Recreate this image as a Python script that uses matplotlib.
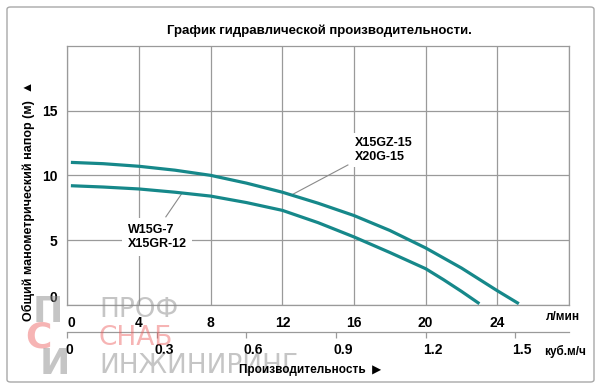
import matplotlib
matplotlib.use("Agg")
import matplotlib.pyplot as plt
from matplotlib.patches import FancyBboxPatch
from matplotlib.transforms import ScaledTranslation, blended_transform_factory

plt.rcParams['font.family'] = ['Liberation Sans', 'DejaVu Sans']
plt.rcParams['font.weight'] = 'bold'

# ---- data (flow in l/min, head in m) ----
flow_upper = [0.2, 2, 4, 6, 8, 10, 12, 14, 16, 18, 20, 22, 24, 25.2]
head_upper = [11.0, 10.9, 10.7, 10.4, 10.0, 9.4, 8.7, 7.85, 6.9, 5.75, 4.4, 2.85, 1.1, 0.1]
flow_lower = [0.2, 2, 4, 6, 8, 10, 12, 14, 16, 18, 20, 21, 22, 23.0]
head_lower = [9.2, 9.1, 8.95, 8.7, 8.4, 7.9, 7.3, 6.35, 5.25, 4.05, 2.8, 1.95, 1.05, 0.1]

label_upper = "X15GZ-15\nX20G-15"
label_lower = "W15G-7\nX15GR-12"

x_ticks_lmin = [0, 4, 8, 12, 16, 20, 24]
y_ticks = [0, 5, 10, 15]
x_ticks_m3h = [0, 0.3, 0.6, 0.9, 1.2, 1.5]
x_tick_m3h_labels = ["0", "0.3", "0.6", "0.9", "1.2", "1.5"]

title = "График гидравлической производительности."
ylabel = "Общий манометрический напор (м)  ▲"
xlabel = "Производительность  ▶"
unit_lmin = "л/мин"
unit_m3h = "куб.м/ч"
watermark_words = ["ПРОФ", "СНАБ", "ИНЖИНИРИНГ"]

teal = "#16888a"
grid_c = "#9a9a9a"

fig = plt.figure(figsize=(6.0, 3.92), dpi=100)
W, H = 600, 392
ax = fig.add_axes([67.3 / W, 1 - 305 / H, (569 - 67.3) / W, (305 - 45.7) / H])

ax.set_xlim(0, 28)
ax.set_ylim(0, 20)
ax.set_xticks(range(0, 29, 4))
ax.set_xticklabels([str(v) if v in x_ticks_lmin else "" for v in range(0, 29, 4)])
ax.set_yticks(y_ticks)
ax.set_yticklabels([str(v) for v in y_ticks])
ax.tick_params(length=0, labelsize=10)
ax.tick_params(axis='x', pad=8)
ax.tick_params(axis='y', pad=7)
ax.grid(True, color=grid_c, linewidth=0.9)
ax.set_axisbelow(True)
for s in ax.spines.values():
    s.set_color(grid_c)
    s.set_linewidth(0.9)

# y "0" label is raised, x "0" label shifted right
ylabs = ax.get_yticklabels()
ylabs[0].set_va('bottom')
xlabs = ax.get_xticklabels()
xlabs[0].set_transform(xlabs[0].get_transform() + ScaledTranslation(4 / 100, 0, fig.dpi_scale_trans))

ax.plot(flow_upper, head_upper, color=teal, linewidth=2.3, solid_capstyle='butt', zorder=4)
ax.plot(flow_lower, head_lower, color=teal, linewidth=2.3, solid_capstyle='butt', zorder=4)

# labels with leader lines
ax.plot([15.66, 12.6], [10.8, 8.55], color="#8a8a8a", linewidth=0.8, zorder=3)
ax.plot([5.5, 6.4], [6.8, 8.62], color="#8a8a8a", linewidth=0.8, zorder=3)
ax.text(16.05, 11.95, label_upper, ha='left', va='center', fontsize=9, linespacing=1.3,
        zorder=3, bbox=dict(facecolor='white', edgecolor='none', pad=2.5))
ax.text(3.38, 5.25, label_lower, ha='left', va='center', fontsize=9, linespacing=1.3,
        zorder=3, bbox=dict(facecolor='white', edgecolor='none', pad=4))

# secondary flow axis in m3/h
sec = ax.secondary_xaxis(-0.104, functions=(lambda q: q * 0.06, lambda v: v / 0.06))
sec.set_xticks(x_ticks_m3h)
sec.set_xticklabels(x_tick_m3h_labels)
sec.tick_params(axis='x', length=4, width=0.9, color=grid_c, direction='out', pad=4, labelsize=10)
sec.spines['bottom'].set_color(grid_c)
sec.spines['bottom'].set_linewidth(0.9)
for i, lab in enumerate(sec.get_xticklabels()):
    dx = 2 if i == 0 else 7
    lab.set_transform(lab.get_transform() + ScaledTranslation(dx / 100, 0, fig.dpi_scale_trans))

# unit labels
tr = blended_transform_factory(ax.transData, fig.transFigure)
ax.text(27.65, 1 - 317 / H, unit_lmin, transform=tr, ha='center', va='center', fontsize=8.5)
ax.text(27.8, 1 - 351 / H, unit_m3h, transform=tr, ha='center', va='center', fontsize=8.5)

fig.text(310 / W, 1 - 370 / H, xlabel, ha='center', va='center', fontsize=8.5)
fig.text(28 / W, 1 - 201 / H, ylabel, ha='center', va='center', fontsize=9, rotation=90)
fig.text(319 / W, 1 - 31 / H, title, ha='center', va='center', fontsize=9.5)

# watermark (behind everything)
wm_gray = (0.55, 0.55, 0.55, 0.5)
wm_pink = (0.93, 0.35, 0.35, 0.45)
wm_colors = [wm_gray, wm_pink, wm_gray]
wm_y = [310, 338, 366]
for word, col, yy in zip(watermark_words, wm_colors, wm_y):
    fig.text(99 / W, 1 - yy / H, word, ha='left', va='center', fontsize=19, weight='normal',
             family='DejaVu Sans', color=col, zorder=0)
fig.text(48 / W, 1 - 312 / H, "П", ha='center', va='center', fontsize=26, weight='bold',
         family='DejaVu Sans', color=wm_gray, zorder=0)
fig.text(38 / W, 1 - 338 / H, "С", ha='center', va='center', fontsize=26, weight='bold',
         family='DejaVu Sans', color=wm_pink, zorder=0)
fig.text(55 / W, 1 - 364 / H, "И", ha='center', va='center', fontsize=26, weight='bold',
         family='DejaVu Sans', color=wm_gray, zorder=0)

# outer frame
frame = FancyBboxPatch((7 / W, 1 - 382 / H), 587 / W, 375 / H,
                       boxstyle="round,pad=0,rounding_size=0.006",
                       transform=fig.transFigure, facecolor='none', edgecolor="#a8a8a8",
                       linewidth=1.0)
fig.patches.append(frame)

fig.savefig("out.png", dpi=100, facecolor='white')
